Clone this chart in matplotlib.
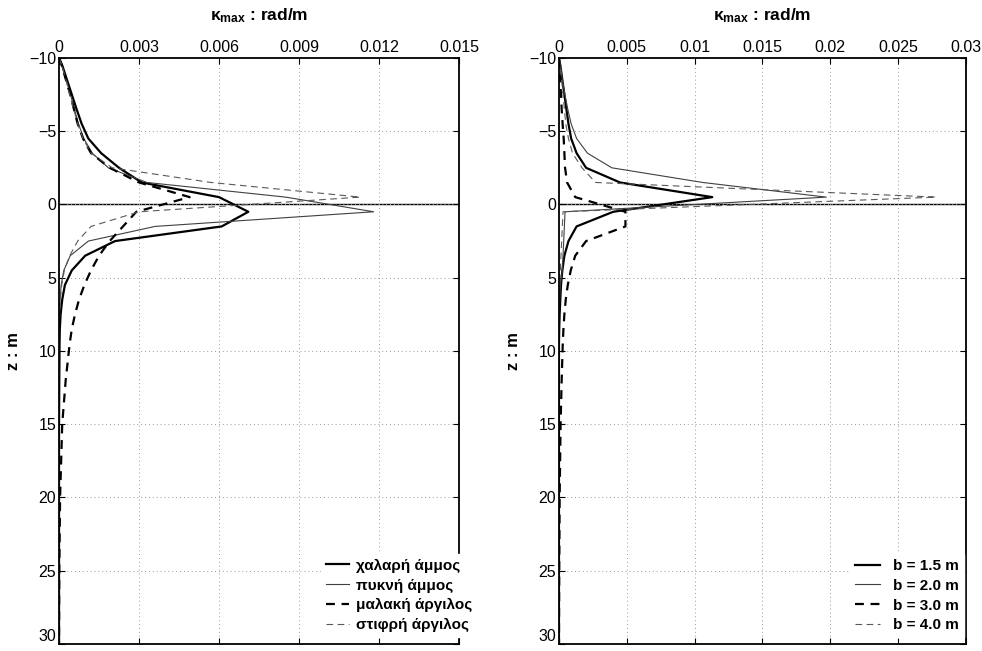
import numpy as np
import matplotlib
matplotlib.use('Agg')
import matplotlib.pyplot as plt

plt.rcParams['font.family'] = ['Liberation Sans', 'DejaVu Sans']
plt.rcParams['mathtext.fontset'] = 'custom'
plt.rcParams['mathtext.rm'] = 'Liberation Sans'
plt.rcParams['mathtext.bf'] = 'Liberation Sans:bold'
plt.rcParams['mathtext.it'] = 'Liberation Sans:italic'

# depth nodes (m), same for every curve
z = [-10, -9.5, -8.5, -7.5, -6.5, -5.5, -4.5, -3.5, -2.5, -1.5, -0.5, 0.5, 1.5,
     2.5, 3.5, 4.5, 5.5, 6.5, 7.5, 8.5, 9.5, 12, 15, 20, 25, 30]

# left: soil types
loose_sand = [0, 0.00012, 0.0003, 0.00048, 0.00066, 0.00085, 0.0011, 0.00158, 0.00225, 0.0031,
              0.0060, 0.0071, 0.0061, 0.0021, 0.00098, 0.00048, 0.00022, 0.00012, 0.00006,
              0.00003, 0.00002, 0.00001, 0, 0, 0, 0]
dense_sand = [0, 0.0001, 0.00027, 0.00043, 0.00058, 0.00073, 0.00093, 0.00125, 0.00185, 0.0033,
              0.0085, 0.0118, 0.0036, 0.0011, 0.00042, 0.00018, 0.00008, 0.00004, 0.00002,
              0.00001, 0, 0, 0, 0, 0, 0]
soft_clay = [0, 0.0001, 0.00026, 0.00042, 0.00056, 0.0007, 0.0009, 0.0012, 0.0019, 0.0030,
             0.0049, 0.0029, 0.0024, 0.0019, 0.0015, 0.0012, 0.00095, 0.00075, 0.0006,
             0.00048, 0.0004, 0.00025, 0.00012, 0.00004, 0.00001, 0]
stiff_clay = [0, 0.0001, 0.00026, 0.0004, 0.00055, 0.0007, 0.0009, 0.0012, 0.0020, 0.0057,
              0.0113, 0.0030, 0.0012, 0.0007, 0.0004, 0.0002, 0.0001, 0.00005, 0.00002,
              0, 0, 0, 0, 0, 0, 0]

# right: pile diameters
b15 = [0, 0.0001, 0.00025, 0.0004, 0.00055, 0.0007, 0.0009, 0.0013, 0.0020, 0.0045,
       0.0113, 0.0040, 0.0013, 0.0007, 0.0004, 0.00025, 0.00015, 0.0001, 0.00005,
       0.00002, 0, 0, 0, 0, 0, 0]
b20 = [0, 0.0001, 0.00025, 0.00044, 0.00065, 0.0009, 0.0013, 0.0021, 0.0039, 0.0106,
       0.0197, 0.00045, 0.0004, 0.00035, 0.0003, 0.00025, 0.0001, 0.00005, 0.00002,
       0, 0, 0, 0, 0, 0, 0]
b30 = [0, 0.00003, 0.0001, 0.00015, 0.0002, 0.00027, 0.00035, 0.0004, 0.00045, 0.0006,
       0.0012, 0.0049, 0.0049, 0.0020, 0.0012, 0.00087, 0.00065, 0.0005, 0.0004,
       0.00033, 0.00028, 0.0002, 0.00012, 0.00005, 0.00002, 0]
b40 = [0, 0.00008, 0.0002, 0.0003, 0.0004, 0.0005, 0.0007, 0.001, 0.0017, 0.0027,
       0.0278, 0.0003, 0.00025, 0.0002, 0.00015, 0.0001, 0.00005, 0.00002, 0,
       0, 0, 0, 0, 0, 0, 0]

left_labels = ['χαλαρή άμμος', 'πυκνή άμμος', 'μαλακή άργιλος', 'στιφρή άργιλος']
right_labels = ['b = 1.5 m', 'b = 2.0 m', 'b = 3.0 m', 'b = 4.0 m']

left_xticks = [0, 0.003, 0.006, 0.009, 0.012, 0.015]
left_xticklabels = ['0', '0.003', '0.006', '0.009', '0.012', '0.015']
right_xticks = [0, 0.005, 0.01, 0.015, 0.02, 0.025, 0.03]
right_xticklabels = ['0', '0.005', '0.01', '0.015', '0.02', '0.025', '0.03']
yticks = [-10, -5, 0, 5, 10, 15, 20, 25, 30]

styles = [dict(color='black', lw=1.6, ls='-'),
          dict(color='0.25', lw=0.8, ls='-'),
          dict(color='black', lw=1.6, ls=(0, (4, 3))),
          dict(color='0.35', lw=0.8, ls=(0, (6, 4)))]

fig = plt.figure(figsize=(9.82, 6.51), dpi=100)
ax1 = fig.add_axes([0.0601, 0.0108, 0.4073, 0.9002])
ax2 = fig.add_axes([0.5692, 0.0108, 0.4145, 0.9002])


def setup(ax, series, labels, xticks, xticklabels, bbox, hlen, hpad):
    for k, lab, st in zip(series, labels, styles):
        ax.plot(k, z, label=lab, **st)
    ax.axhline(0, color='black', lw=1.0, zorder=1.5)
    ax.set_xlim(xticks[0], xticks[-1])
    ax.set_ylim(30, -10)
    ax.set_xticks(xticks)
    ax.set_xticklabels(xticklabels)
    ax.set_yticks(yticks)
    ax.xaxis.set_label_position('top')
    ax.tick_params(direction='in', length=4, width=0.8, top=True, bottom=True,
                   left=True, right=True, labeltop=True, labelbottom=False,
                   labelsize=11.5, pad=2)
    # keep the bottom "30" inside the figure
    ax.get_yticklabels()[-1].set_verticalalignment('bottom')
    ax.grid(True, ls=(0, (1, 3)), color='0.6', lw=0.7)
    for s in ax.spines.values():
        s.set_linewidth(1.3)
    ax.set_xlabel(r'κ$_{\mathbf{max}}$ : rad/m', fontsize=12.5, fontweight='bold', labelpad=14)
    ax.set_ylabel('z : m', fontsize=12, fontweight='bold', labelpad=6)
    leg = ax.legend(loc='lower right', bbox_to_anchor=bbox, frameon=True, fancybox=False,
                    edgecolor='white', facecolor='white', framealpha=1,
                    prop=dict(weight='bold', size=11), handlelength=hlen,
                    handletextpad=hpad, labelspacing=0.38, borderpad=0.3,
                    borderaxespad=0)
    leg.set_zorder(5)


setup(ax1, [loose_sand, dense_sand, soft_clay, stiff_clay], left_labels,
      left_xticks, left_xticklabels, (1.045, 0.012), 1.5, 0.5)
setup(ax2, [b15, b20, b30, b40], right_labels,
      right_xticks, right_xticklabels, (0.995, 0.012), 1.6, 0.9)

fig.savefig('out.png', dpi=100)
